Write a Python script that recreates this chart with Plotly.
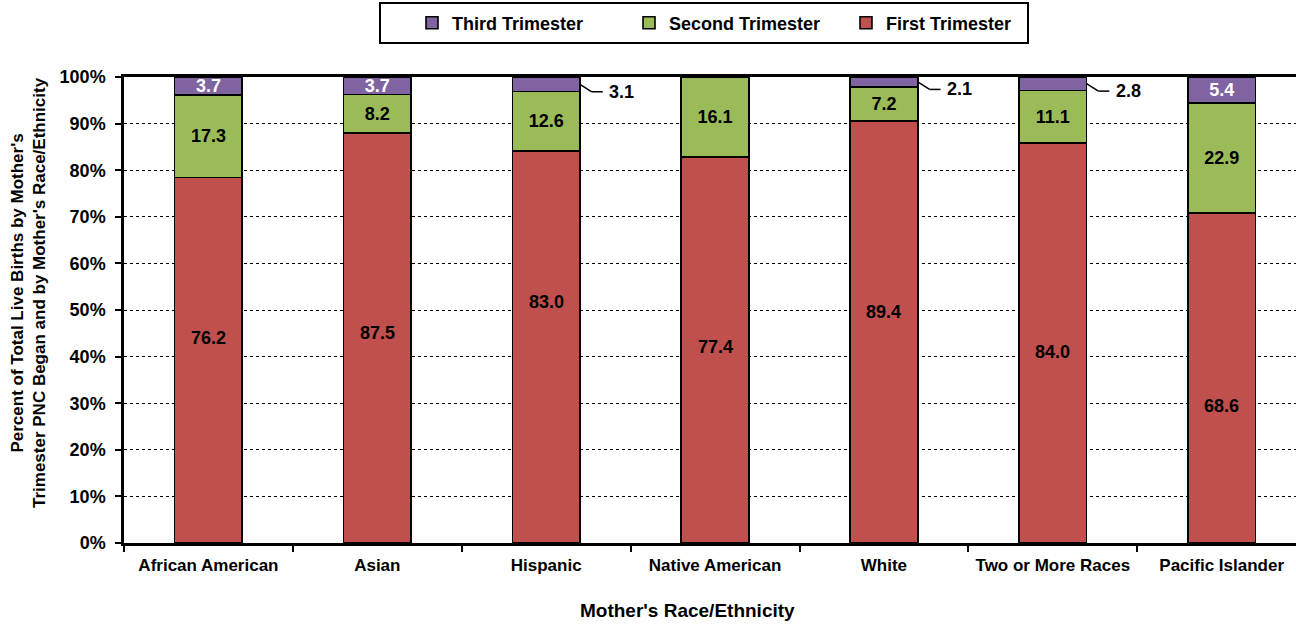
import plotly.graph_objects as go

# ---------------- data ----------------
categories = ["African American", "Asian", "Hispanic", "Native American",
              "White", "Two or More Races", "Pacific Islander"]
first_tri = [76.2, 87.5, 83.0, 77.4, 89.4, 84.0, 68.6]
second_tri = [17.3, 8.2, 12.6, 16.1, 7.2, 11.1, 22.9]
third_tri = [3.7, 3.7, 3.1, None, 2.1, 2.8, 5.4]
y_tick_values = [0, 10, 20, 30, 40, 50, 60, 70, 80, 90, 100]
y_tick_labels = [f"{v}%" for v in y_tick_values]

# ---------------- style ----------------
RED, GREEN, PURPLE = "#C0504D", "#9BBB59", "#8064A2"
FONT = "Arial, Liberation Sans, sans-serif"
W, H = 1296, 624
ML, MR, MT, MB = 124, 0, 77, 81
PW, PH = W - ML - MR, H - MT - MB
BAR_W = 0.4
X_MAX = 6.44
INSIDE_MIN = 3.5  # third-trimester labels below this go outside with a leader line
# manual vertical nudges (px, + = up) of the first-trimester labels, as in the original
first_label_shift = [22, 5, 45, 3, 20, -9, -28]


def px_x(p):  # pixel -> paper x
    return (p - ML) / PW


def px_y(p):  # pixel -> paper y
    return (H - MB - p) / PH


totals = [a + b + (c or 0) for a, b, c in zip(first_tri, second_tri, third_tri)]
first_pct = [v / t * 100 for v, t in zip(first_tri, totals)]
second_pct = [v / t * 100 for v, t in zip(second_tri, totals)]
third_pct = [(v or 0) / t * 100 for v, t in zip(third_tri, totals)]

bar_line = dict(color="black", width=1.6)
lab_font = dict(family=FONT, size=18, color="black", weight="bold")

fig = go.Figure()
fig.add_bar(x=categories, y=first_pct, name="First Trimester", width=BAR_W,
            marker=dict(color=RED, line=bar_line), hoverinfo="x+name")
fig.add_bar(x=categories, y=second_pct, name="Second Trimester", width=BAR_W,
            marker=dict(color=GREEN, line=bar_line),
            text=[f"{v:.1f}" for v in second_tri], textposition="inside",
            insidetextanchor="middle", textangle=0, constraintext="none",
            textfont=lab_font, hoverinfo="x+name")
fig.add_bar(x=categories, y=third_pct, name="Third Trimester", width=BAR_W,
            marker=dict(color=PURPLE, line=bar_line),
            text=[f"{v:.1f}" if (v is not None and v >= INSIDE_MIN) else "" for v in third_tri],
            textposition="inside", insidetextanchor="middle", textangle=0,
            constraintext="none",
            textfont=dict(family=FONT, size=18, color="white", weight="bold"),
            hoverinfo="x+name")

annotations = []
shapes = []

# first trimester labels
for i, (v, p) in enumerate(zip(first_tri, first_pct)):
    annotations.append(dict(x=i, y=p / 2, xref="x", yref="y", text=f"{v:.1f}",
                            showarrow=False, yshift=first_label_shift[i], font=lab_font))

# outside third trimester labels with leader lines
dx1, dy1, dx2, dxt = 0.07, 1.6, 0.135, 0.16
for i, (v, p) in enumerate(zip(third_tri, third_pct)):
    if v is None or v >= INSIDE_MIN:
        continue
    xa = i + BAR_W / 2
    ym = 100 - p / 2
    shapes.append(dict(type="line", xref="x", yref="y", x0=xa, y0=ym,
                       x1=xa + dx1, y1=ym - dy1, line=dict(color="black", width=1.5)))
    shapes.append(dict(type="line", xref="x", yref="y", x0=xa + dx1, y0=ym - dy1,
                       x1=xa + dx2, y1=ym - dy1, line=dict(color="black", width=1.5)))
    annotations.append(dict(x=xa + dxt, y=ym - dy1, xref="x", yref="y", text=f"{v:.1f}",
                            showarrow=False, xanchor="left", font=lab_font))

# legend frame
shapes.append(dict(type="rect", xref="paper", yref="paper",
                   x0=px_x(380), x1=px_x(1028), y0=px_y(43), y1=px_y(3),
                   line=dict(color="black", width=2), fillcolor="rgba(0,0,0,0)"))

# axis titles
annotations.append(dict(x=px_x(28), y=px_y(293), xref="paper", yref="paper",
                        text="Percent of Total Live Births by Mother's<br>Trimester PNC Began and by Mother's Race/Ethnicity",
                        textangle=-90, showarrow=False, xanchor="center", yanchor="middle",
                        font=dict(family=FONT, size=17, color="black", weight="bold")))
annotations.append(dict(x=px_x(687), y=px_y(610), xref="paper", yref="paper",
                        text="Mother's Race/Ethnicity", showarrow=False,
                        xanchor="center", yanchor="middle",
                        font=dict(family=FONT, size=19, color="black", weight="bold")))

fig.update_layout(
    width=W, height=H,
    margin=dict(l=ML, r=MR, t=MT, b=MB, pad=0, autoexpand=False),
    barmode="stack",
    paper_bgcolor="white", plot_bgcolor="white",
    font=dict(family=FONT, size=18, color="black", weight="bold"),
    showlegend=True,
    legend=dict(orientation="h", traceorder="reversed", x=px_x(412), xanchor="left",
                y=px_y(23), yanchor="middle", bgcolor="rgba(0,0,0,0)", borderwidth=0,
                font=dict(family=FONT, size=18, color="black", weight="bold"),
                entrywidth=172, entrywidthmode="pixels"),
    annotations=annotations,
    shapes=shapes,
)
fig.update_xaxes(range=[-0.5, X_MAX], type="category", automargin=False, tickangle=0,
                 showline=True, linecolor="black", linewidth=2.5, mirror=True,
                 ticks="outside", tickson="boundaries", ticklen=6, tickwidth=2,
                 tickcolor="black", showgrid=False, ticklabelstandoff=5,
                 tickfont=dict(family=FONT, size=17, color="black", weight="bold"))
fig.update_yaxes(range=[0, 100], tickmode="array", tickvals=y_tick_values,
                 ticktext=y_tick_labels, automargin=False,
                 showline=True, linecolor="black", linewidth=2.5,
                 ticks="outside", ticklen=6, tickwidth=2, tickcolor="black",
                 showgrid=True, gridcolor="black", griddash="dot", gridwidth=1,
                 zeroline=False, ticklabelstandoff=6,
                 tickfont=dict(family=FONT, size=18, color="black", weight="bold"))

fig.write_html("out.html", config={"displayModeBar": False},
               post_script="document.body.style.margin='0';")
